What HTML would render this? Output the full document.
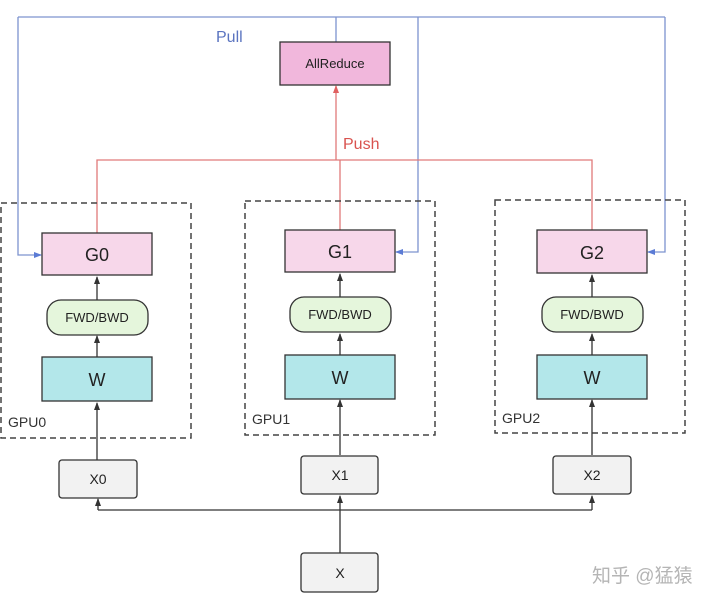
<!DOCTYPE html>
<html><head><meta charset="utf-8"><style>
body{margin:0;background:#fff;width:719px;height:605px;overflow:hidden}
text{font-family:"Liberation Sans","Noto Sans CJK SC",sans-serif}
</style></head><body>
<svg width="719" height="605" viewBox="0 0 719 605" xmlns="http://www.w3.org/2000/svg">
<defs>
<marker id="ab" markerWidth="8" markerHeight="8" refX="7" refY="4" orient="auto" markerUnits="userSpaceOnUse"><path d="M0,1 L8,4 L0,7z" fill="#5b7bd5"/></marker>
<marker id="ar" markerWidth="8" markerHeight="8" refX="7" refY="4" orient="auto" markerUnits="userSpaceOnUse"><path d="M0,1 L8,4 L0,7z" fill="#e06060"/></marker>
<marker id="ak" markerWidth="8" markerHeight="8" refX="7" refY="4" orient="auto" markerUnits="userSpaceOnUse"><path d="M0,1 L8,4 L0,7z" fill="#333"/></marker>
</defs>
<!-- blue pull lines -->
<g stroke="#7d93cf" stroke-width="1.3" fill="none">
<path d="M18,17 H665"/>
<path d="M336,17 V42"/>
<path d="M18,17 V255 H41" marker-end="url(#ab)"/>
<path d="M418,17 V252 H396" marker-end="url(#ab)"/>
<path d="M665,17 V252 H648" marker-end="url(#ab)"/>
</g>
<text x="216" y="42" font-size="16" fill="#5b74c0">Pull</text>
<!-- red push -->
<g stroke="#e07a7a" stroke-width="1.3" fill="none">
<path d="M97,233 V160 H592 V230"/>
<path d="M340,230 V160"/>
<path d="M336,160 V86" marker-end="url(#ar)"/>
</g>
<text x="343" y="149" font-size="16" fill="#d9534f">Push</text>
<rect x="280" y="42" width="110" height="43" fill="#f1b7dc" stroke="#333" stroke-width="1.3"/>
<text x="335" y="68" font-size="13" text-anchor="middle" fill="#222">AllReduce</text>
<!-- dashed boxes -->
<g fill="none" stroke="#444" stroke-width="1.5" stroke-dasharray="6,4">
<rect x="1" y="203" width="190" height="235"/>
<rect x="245" y="201" width="190" height="234"/>
<rect x="495" y="200" width="190" height="233"/>
</g>
<g font-size="14" fill="#333">
<text x="8" y="427">GPU0</text>
<text x="252" y="424">GPU1</text>
<text x="502" y="423">GPU2</text>
</g>
<!-- columns -->
<g stroke="#333" stroke-width="1.3">
<path d="M97,357 V336" marker-end="url(#ak)"/>
<path d="M97,300 V277" marker-end="url(#ak)"/>
<path d="M97,460 V403" marker-end="url(#ak)"/>
<path d="M340,355 V334" marker-end="url(#ak)"/>
<path d="M340,298 V274" marker-end="url(#ak)"/>
<path d="M340,455 V400" marker-end="url(#ak)"/>
<path d="M592,355 V334" marker-end="url(#ak)"/>
<path d="M592,298 V275" marker-end="url(#ak)"/>
<path d="M592,455 V400" marker-end="url(#ak)"/>
<path d="M98,510 H592" fill="none"/>
<path d="M98,510 V499" marker-end="url(#ak)"/>
<path d="M592,510 V496" marker-end="url(#ak)"/>
<path d="M340,553 V496" marker-end="url(#ak)"/>
</g>
<g stroke="#333" stroke-width="1.3">
<rect x="42" y="233" width="110" height="42" fill="#f7d7ea"/>
<rect x="285" y="230" width="110" height="42" fill="#f7d7ea"/>
<rect x="537" y="230" width="110" height="43" fill="#f7d7ea"/>
<rect x="47" y="300" width="101" height="35" rx="14" fill="#e5f6dc"/>
<rect x="290" y="297" width="101" height="35" rx="14" fill="#e5f6dc"/>
<rect x="542" y="297" width="101" height="35" rx="14" fill="#e5f6dc"/>
<rect x="42" y="357" width="110" height="44" fill="#b3e7ea"/>
<rect x="285" y="355" width="110" height="44" fill="#b3e7ea"/>
<rect x="537" y="355" width="110" height="44" fill="#b3e7ea"/>
<rect x="59" y="460" width="78" height="38" rx="3" fill="#f2f2f2"/>
<rect x="301" y="456" width="77" height="38" rx="3" fill="#f2f2f2"/>
<rect x="553" y="456" width="78" height="38" rx="3" fill="#f2f2f2"/>
<rect x="301" y="553" width="77" height="39" rx="3" fill="#f2f2f2"/>
</g>
<g text-anchor="middle" fill="#222">
<text x="97" y="261" font-size="18">G0</text>
<text x="340" y="258" font-size="18">G1</text>
<text x="592" y="259" font-size="18">G2</text>
<text x="97" y="322" font-size="13">FWD/BWD</text>
<text x="340" y="319" font-size="13">FWD/BWD</text>
<text x="592" y="319" font-size="13">FWD/BWD</text>
<text x="97" y="386" font-size="18">W</text>
<text x="340" y="384" font-size="18">W</text>
<text x="592" y="384" font-size="18">W</text>
<text x="98" y="484" font-size="14">X0</text>
<text x="340" y="480" font-size="14">X1</text>
<text x="592" y="480" font-size="14">X2</text>
<text x="340" y="578" font-size="14">X</text>
</g>
<text x="592" y="582" font-size="19" fill="#b5b5b5">知乎 @猛猿</text>
</svg>
</body></html>
